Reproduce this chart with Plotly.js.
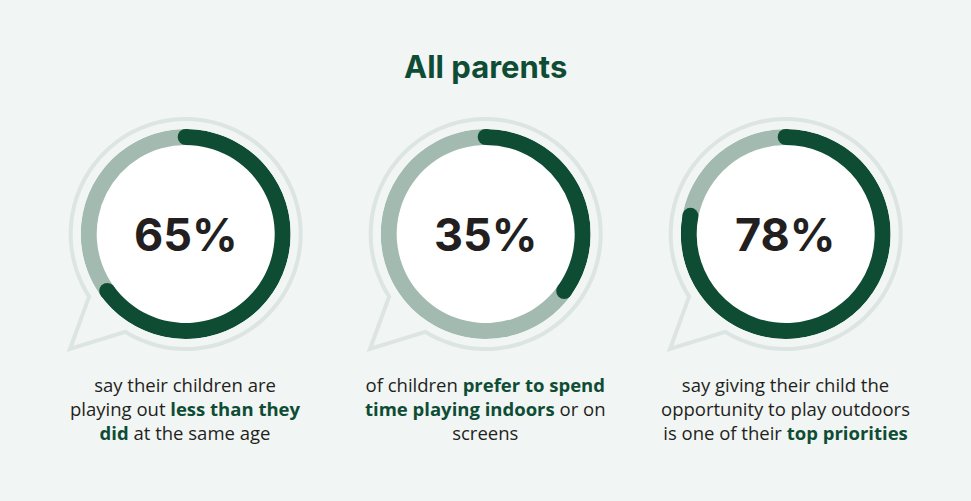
<!DOCTYPE html>
<html>
<head>
<meta charset="utf-8">
<script src="https://cdn.plot.ly/plotly-3.0.1.min.js"></script>
<style>html,body{margin:0;padding:0;background:#f1f5f4;}#chart{width:971px;height:501px;}</style>
</head>
<body>
<div id="chart"></div>
<script>
// ---- data ----
const chartTitle = 'All parents';
const categories = ['Playing out less', 'Prefer indoors / screens', 'Outdoor play a top priority'];
const percents = [65, 35, 78];
const captions = [
  ['say their children are', 'playing out [less than they]', '[did] at the same age'],
  ['of children [prefer to spend]', '[time playing indoors] or on', 'screens'],
  ['say giving their child the', 'opportunity to play outdoors', 'is one of their [top priorities]']
];

// ---- style / layout constants ----
const W = 971, H = 501;
const DARK = '#0e4d34', LIGHT = '#a3bab0', BG = '#f1f5f4', OUTLINE = '#dce5e1', INK = '#231f20';
const FONT = 'Inter, Lato, sans-serif';
const CAP_FONT = '"Open Sans", Inter, sans-serif';
const centersX = [185.7, 485.7, 785.7];
const CY = 234;
const R_OUT = 105, THICK = 16;
const HOLE = (R_OUT - THICK) / R_OUT;
const BUBBLE_R = 115;

const X = px => px / W;
const Y = py => 1 - py / H;

const traces = [];
const layout = {
  width: W, height: H,
  margin: {l: 0, r: 0, t: 0, b: 0},
  paper_bgcolor: BG, plot_bgcolor: BG,
  showlegend: false,
  shapes: [], annotations: []
};

function fmtCaption(line) {
  return line.replace(/\[([^\]]+)\]/g, '<span style="color:' + DARK + '"><b>$1</b></span>');
}

percents.forEach((p, i) => {
  const cx = centersX[i];
  const key = i === 0 ? 'polar' : 'polar' + (i + 1);

  // speech bubble outline (decoration)
  const a2 = 121.7 * Math.PI / 180, a1 = (147.1 - 360) * Math.PI / 180;
  let d = '';
  const N = 140;
  for (let k = 0; k <= N; k++) {
    const a = a2 + (a1 - a2) * k / N;
    const px = cx + BUBBLE_R * Math.cos(a), py = CY + BUBBLE_R * Math.sin(a);
    d += (k === 0 ? 'M' : 'L') + X(px).toFixed(5) + ',' + Y(py).toFixed(5) + ' ';
  }
  d += 'L' + X(cx - 115.7).toFixed(5) + ',' + Y(CY + 115).toFixed(5) + ' Z';
  layout.shapes.push({type: 'path', xref: 'paper', yref: 'paper', path: d,
    line: {color: OUTLINE, width: 4}, fillcolor: 'rgba(0,0,0,0)', layer: 'below'});
  // white disc inside ring
  layout.shapes.push({type: 'circle', xref: 'paper', yref: 'paper',
    x0: X(cx - 91), x1: X(cx + 91), y0: Y(CY + 91), y1: Y(CY - 91),
    fillcolor: '#ffffff', line: {width: 0}, layer: 'below'});

  layout[key] = {
    domain: {x: [X(cx - R_OUT), X(cx + R_OUT)], y: [Y(CY + R_OUT), Y(CY - R_OUT)]},
    bgcolor: 'rgba(0,0,0,0)', bargap: 0,
    radialaxis: {range: [0, 1], visible: false, showgrid: false, showline: false, showticklabels: false, ticks: ''},
    angularaxis: {rotation: 90, direction: 'clockwise', visible: false, showgrid: false, showline: false, showticklabels: false, ticks: ''}
  };

  const rest = 100 - p;
  traces.push({
    type: 'barpolar', subplot: key,
    theta: [p * 1.8, p * 3.6 + rest * 1.8],
    width: [p * 3.6, rest * 3.6],
    r: [1 - HOLE, 1 - HOLE], base: [HOLE, HOLE],
    marker: {color: [DARK, LIGHT], line: {width: 0}},
    hoverinfo: 'skip', name: categories[i]
  });
  // round caps
  traces.push({
    type: 'scatterpolar', subplot: key, mode: 'markers',
    theta: [0, p * 3.6], r: [(1 + HOLE) / 2, (1 + HOLE) / 2],
    marker: {color: DARK, size: THICK, line: {width: 0}},
    hoverinfo: 'skip'
  });

  layout.annotations.push({
    xref: 'paper', yref: 'paper', x: X(cx), y: Y(CY + 1), xanchor: 'center', yanchor: 'middle',
    text: '<b>' + p + '%</b>', showarrow: false,
    font: {family: FONT, size: 45, color: INK}
  });
  layout.annotations.push({
    xref: 'paper', yref: 'paper', x: X(cx), y: Y(408.8), xanchor: 'center', yanchor: 'middle',
    text: captions[i].map(fmtCaption).join('<br>'), showarrow: false, align: 'center',
    font: {family: CAP_FONT, size: 18.5, color: INK}
  });
});

layout.annotations.push({
  xref: 'paper', yref: 'paper', x: X(485.5), y: Y(66), xanchor: 'center', yanchor: 'middle',
  text: '<b>' + chartTitle + '</b>', showarrow: false,
  font: {family: FONT, size: 31, color: DARK}
});

Plotly.newPlot('chart', traces, layout, {staticPlot: true, displayModeBar: false});
</script>
</body>
</html>
